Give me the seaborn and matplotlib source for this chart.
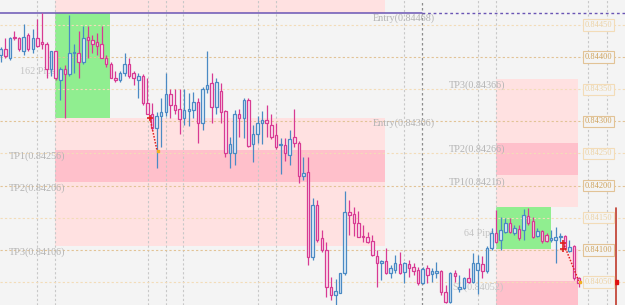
import matplotlib
matplotlib.use('Agg')
import matplotlib.pyplot as plt
from matplotlib.patches import Rectangle
import seaborn as sns
import pandas as pd
import numpy as np

# OHLC (one entry per candle, left to right)
opens = [0.84404, 0.84413, 0.84399, 0.84432, 0.84430, 0.84410, 0.84434, 0.84412, 0.84429, 0.84423,
         0.84421, 0.84382, 0.84409, 0.84365, 0.84381, 0.84373, 0.84406, 0.84407, 0.84392, 0.84432,
         0.84426, 0.84423, 0.84421, 0.84399, 0.84390, 0.84368, 0.84365, 0.84375, 0.84390, 0.84375,
         0.84364, 0.84371, 0.84328, 0.84312, 0.84289, 0.84308, 0.84314, 0.84342, 0.84325, 0.84319,
         0.84305, 0.84316, 0.84317, 0.84330, 0.84298, 0.84351, 0.84359, 0.84322, 0.84348, 0.84316,
         0.84250, 0.84250, 0.84312, 0.84306, 0.84334, 0.84264, 0.84281, 0.84298, 0.84302, 0.84295,
         0.84278, 0.84263, 0.84263, 0.84247, 0.84275, 0.84267, 0.84215, 0.84221, 0.84089, 0.84170,
         0.84118, 0.84100, 0.84042, 0.84030, 0.84033, 0.84064, 0.84159, 0.84156, 0.84142, 0.84121,
         0.84120, 0.84114, 0.84090, 0.84080, 0.84083, 0.84064, 0.84069, 0.84078, 0.84066, 0.84078,
         0.84073, 0.84069, 0.84048, 0.84072, 0.84062, 0.84064, 0.84067, 0.84034, 0.84019, 0.84064,
         0.84039, 0.84041, 0.84056, 0.84050, 0.84069, 0.84078, 0.84067, 0.84103, 0.84126, 0.84115,
         0.84128, 0.84142, 0.84126, 0.84132, 0.84131, 0.84153, 0.84145, 0.84121, 0.84129, 0.84123,
         0.84115, 0.84115, 0.84120, 0.84121, 0.84098, 0.84106, 0.84056]
highs = [0.84416, 0.84429, 0.84432, 0.84441, 0.84432, 0.84452, 0.84438, 0.84443, 0.84460, 0.84468,
         0.84423, 0.84410, 0.84410, 0.84384, 0.84387, 0.84466, 0.84421, 0.84440, 0.84449, 0.84448,
         0.84434, 0.84438, 0.84448, 0.84403, 0.84392, 0.84379, 0.84379, 0.84406, 0.84399, 0.84378,
         0.84375, 0.84373, 0.84368, 0.84328, 0.84314, 0.84336, 0.84375, 0.84350, 0.84351, 0.84350,
         0.84350, 0.84344, 0.84345, 0.84337, 0.84354, 0.84410, 0.84375, 0.84367, 0.84359, 0.84317,
         0.84275, 0.84317, 0.84320, 0.84336, 0.84336, 0.84295, 0.84309, 0.84316, 0.84326, 0.84312,
         0.84297, 0.84274, 0.84274, 0.84286, 0.84319, 0.84269, 0.84244, 0.84244, 0.84180, 0.84177,
         0.84131, 0.84112, 0.84058, 0.84055, 0.84064, 0.84191, 0.84177, 0.84166, 0.84160, 0.84139,
         0.84128, 0.84123, 0.84100, 0.84084, 0.84103, 0.84076, 0.84092, 0.84097, 0.84081, 0.84084,
         0.84080, 0.84073, 0.84073, 0.84076, 0.84072, 0.84081, 0.84069, 0.84045, 0.84066, 0.84069,
         0.84061, 0.84058, 0.84072, 0.84095, 0.84092, 0.84090, 0.84106, 0.84134, 0.84162, 0.84151,
         0.84149, 0.84149, 0.84139, 0.84139, 0.84163, 0.84165, 0.84151, 0.84134, 0.84131, 0.84126,
         0.84131, 0.84135, 0.84126, 0.84123, 0.84115, 0.84107, 0.84058]
lows = [0.84392, 0.84399, 0.84396, 0.84427, 0.84410, 0.84403, 0.84409, 0.84407, 0.84415, 0.84413,
        0.84368, 0.84371, 0.84364, 0.84333, 0.84305, 0.84371, 0.84376, 0.84368, 0.84390, 0.84399,
        0.84407, 0.84403, 0.84398, 0.84384, 0.84367, 0.84361, 0.84361, 0.84371, 0.84368, 0.84356,
        0.84336, 0.84326, 0.84311, 0.84286, 0.84227, 0.84260, 0.84308, 0.84306, 0.84312, 0.84281,
        0.84294, 0.84292, 0.84305, 0.84267, 0.84286, 0.84344, 0.84298, 0.84312, 0.84298, 0.84244,
        0.84227, 0.84232, 0.84275, 0.84274, 0.84260, 0.84236, 0.84267, 0.84264, 0.84275, 0.84272,
        0.84257, 0.84218, 0.84239, 0.84232, 0.84260, 0.84204, 0.84208, 0.84076, 0.84084, 0.84112,
        0.84097, 0.84027, 0.84022, 0.84014, 0.84033, 0.84061, 0.84123, 0.84121, 0.84120, 0.84112,
        0.84111, 0.84090, 0.84042, 0.84053, 0.84062, 0.84056, 0.84064, 0.84062, 0.84048, 0.84058,
        0.84061, 0.84045, 0.84047, 0.84048, 0.84050, 0.84056, 0.84030, 0.84017, 0.84017, 0.84050,
        0.84034, 0.84039, 0.84048, 0.84048, 0.84031, 0.84056, 0.84064, 0.84100, 0.84111, 0.84100,
        0.84126, 0.84126, 0.84123, 0.84115, 0.84115, 0.84139, 0.84118, 0.84120, 0.84111, 0.84112,
        0.84112, 0.84080, 0.84112, 0.84100, 0.84097, 0.84053, 0.84042]
closes = [0.84413, 0.84401, 0.84430, 0.84429, 0.84413, 0.84432, 0.84412, 0.84430, 0.84418, 0.84421,
          0.84382, 0.84409, 0.84367, 0.84381, 0.84373, 0.84406, 0.84407, 0.84392, 0.84430, 0.84426,
          0.84421, 0.84418, 0.84399, 0.84389, 0.84368, 0.84365, 0.84375, 0.84390, 0.84371, 0.84367,
          0.84371, 0.84328, 0.84312, 0.84289, 0.84308, 0.84314, 0.84342, 0.84325, 0.84317, 0.84303,
          0.84317, 0.84319, 0.84330, 0.84298, 0.84351, 0.84357, 0.84322, 0.84361, 0.84314, 0.84250,
          0.84264, 0.84311, 0.84306, 0.84333, 0.84261, 0.84281, 0.84298, 0.84302, 0.84297, 0.84275,
          0.84260, 0.84264, 0.84250, 0.84272, 0.84267, 0.84215, 0.84219, 0.84089, 0.84170, 0.84115,
          0.84100, 0.84042, 0.84030, 0.84036, 0.84064, 0.84159, 0.84154, 0.84142, 0.84120, 0.84120,
          0.84112, 0.84092, 0.84080, 0.84083, 0.84064, 0.84072, 0.84080, 0.84064, 0.84080, 0.84072,
          0.84067, 0.84048, 0.84070, 0.84061, 0.84067, 0.84067, 0.84034, 0.84019, 0.84064, 0.84059,
          0.84042, 0.84056, 0.84050, 0.84080, 0.84080, 0.84067, 0.84103, 0.84126, 0.84112, 0.84131,
          0.84142, 0.84128, 0.84134, 0.84118, 0.84154, 0.84142, 0.84120, 0.84129, 0.84114, 0.84114,
          0.84118, 0.84120, 0.84121, 0.84103, 0.84104, 0.84056, 0.84048]

# price scale labels on the right
grid_levels = [0.84450, 0.84400, 0.84350, 0.84300, 0.84250, 0.84200, 0.84150, 0.84100, 0.84050]
grid_labels = ['0.84450', '0.84400', '0.84350', '0.84300', '0.84250', '0.84200', '0.84150', '0.84100', '0.84050']

# trade levels
sl_left = 0.84468
entry_left = 0.84306
tp_left = [0.84256, 0.84206, 0.84106]
entry_right = 0.84166
tp_right = [0.84216, 0.84266, 0.84366]
green_right_low = 0.84102
sl_right = 0.84052

df = pd.DataFrame({'open': opens, 'high': highs, 'low': lows, 'close': closes})
df['idx'] = np.arange(len(df))

sns.set_theme(style='white')
plt.rcParams['font.family'] = ['Liberation Serif', 'DejaVu Serif']

bg = '#f4f4f4'
fig = plt.figure(figsize=(6.25, 3.05), dpi=100)
fig.patch.set_facecolor(bg)
ax = fig.add_axes([0, 0, 1, 1])
ax.set_facecolor(bg)
ymin, ymax = 0.840143, 0.844888
ax.set_xlim(-0.15, 136.1)
ax.set_ylim(ymin, ymax)
ax.set_xticks([])
ax.set_yticks([])
for s in ax.spines.values():
    s.set_visible(False)

light_pink = '#ffe1e1'
dark_pink = '#ffc0cb'
green = '#90ee90'

# zones of the left trade
ax.add_patch(Rectangle((11.85, sl_left), 83.8 - 11.85, ymax - sl_left, color=light_pink, zorder=0.5, lw=0))
ax.add_patch(Rectangle((11.85, entry_left), 23.8 - 11.85, sl_left - entry_left, color=green, zorder=0.5, lw=0))
ax.add_patch(Rectangle((11.85, tp_left[0]), 83.8 - 11.85, entry_left - tp_left[0], color=light_pink, zorder=0.5, lw=0))
ax.add_patch(Rectangle((11.85, tp_left[1]), 83.8 - 11.85, tp_left[0] - tp_left[1], color=dark_pink, zorder=0.5, lw=0))
ax.add_patch(Rectangle((11.85, tp_left[2]), 83.8 - 11.85, tp_left[1] - tp_left[2], color=light_pink, zorder=0.5, lw=0))

# zones of the right trade
ax.add_patch(Rectangle((108, tp_right[1]), 125.9 - 108, tp_right[2] - tp_right[1], color=light_pink, zorder=0.5, lw=0))
ax.add_patch(Rectangle((108, tp_right[0]), 125.9 - 108, tp_right[1] - tp_right[0], color=dark_pink, zorder=0.5, lw=0))
ax.add_patch(Rectangle((108, entry_right), 125.9 - 108, tp_right[0] - entry_right, color=light_pink, zorder=0.5, lw=0))
ax.add_patch(Rectangle((108, green_right_low), 119.9 - 108, entry_right - green_right_low, color=green, zorder=0.5, lw=0))
ax.add_patch(Rectangle((108, sl_right), 125.9 - 108, green_right_low - sl_right, color=light_pink, zorder=0.5, lw=0))
ax.add_patch(Rectangle((108, ymin), 125.9 - 108, sl_right - ymin, color=dark_pink, zorder=0.5, lw=0))

# vertical grid
for xv in [7.9, 11.85, 32.1, 36.0, 39.8, 56.1, 60.0, 87.9, 104.1, 108.0, 128.0, 132.2]:
    ax.axvline(xv, color='#c8c8c8', lw=0.8, ls=(0, (2, 2)), zorder=1)
ax.axvline(91.85, color='#8c8c8c', lw=0.9, ls=(0, (2, 2)), zorder=1)

# horizontal grid and price labels
for k, (lv, lab) in enumerate(zip(grid_levels, grid_labels)):
    strong = (k % 2 == 1)
    lc = '#e2c396' if strong else '#f3dcb8'
    tc = '#cfa35c' if strong else '#ecd2a4'
    ax.axhline(lv, color=lc, lw=0.8, ls=(0, (2, 2)), zorder=1)
    ax.text(130.3, lv, lab, ha='center', va='center', fontsize=6, color=tc, zorder=5,
            bbox=dict(boxstyle='square,pad=0.2', fc=bg, ec=lc, lw=0.8))

# purple stop line
ax.plot([-0.15, 91.85], [sl_left, sl_left], color='#6a55b5', lw=1.1, zorder=2)
ax.plot([91.85, 136.1], [sl_left, sl_left], color='#6a55b5', lw=1.0, ls=(0, (2, 2)), zorder=2)

# candles
bear_edge, bull_edge = '#d83a93', '#4a8ac4'
bear_face, bull_face = '#fbe3ef', '#e3eef8'
up = df['close'] >= df['open']
edge = np.where(up, bull_edge, bear_edge)
face = np.where(up, bull_face, bear_face)
ax.vlines(df['idx'], df['low'], df['high'], colors=edge, lw=0.9, zorder=3)
bottom = np.minimum(df['open'], df['close'])
height = np.maximum(np.abs(df['close'] - df['open']), 0.000018)
ax.bar(df['idx'], height, bottom=bottom, width=0.55, color=face, edgecolor=edge, linewidth=0.9, zorder=3.5)

# text annotations
txt = '#b4b4b4'
ax.text(81.2, 0.84460, 'Entry(0.84468)', fontsize=7.3, color=txt, va='center', zorder=2)
ax.text(81.2, 0.84297, 'Entry(0.84306)', fontsize=7.3, color=txt, va='center', zorder=2)
ax.text(97.8, 0.84356, 'TP3(0.84366)', fontsize=7.3, color=txt, va='center', zorder=2)
ax.text(97.8, 0.84257, 'TP2(0.84266)', fontsize=7.3, color=txt, va='center', zorder=2)
ax.text(97.8, 0.84206, 'TP1(0.84216)', fontsize=7.3, color=txt, va='center', zorder=2)
ax.text(1.8, 0.84246, 'TP1(0.84256)', fontsize=7.3, color=txt, va='center', zorder=2)
ax.text(1.8, 0.84196, 'TP2(0.84206)', fontsize=7.3, color=txt, va='center', zorder=2)
ax.text(1.8, 0.84097, 'TP3(0.84106)', fontsize=7.3, color=txt, va='center', zorder=2)
ax.text(4.2, 0.84377, '162 Pips', fontsize=7.3, color='#c4c4c4', va='center', zorder=2)
ax.text(100.9, 0.84125, '64 Pips', fontsize=7.3, color='#c4c4c4', va='center', zorder=2)
ax.text(98.4, 0.84042, 'SL(0.84052)', fontsize=7.3, color='#c4c4c4', va='center', zorder=2)

# trade execution markers
trades = pd.DataFrame({'x': [32.55, 34.1, 122.65, 126.0],
                       'y': [0.84305, 0.84254, 0.84111, 0.84052],
                       'trade': ['a', 'a', 'b', 'b']})
sns.lineplot(data=trades, x='x', y='y', units='trade', estimator=None, color='#e02020',
             lw=1.1, ls=(0, (1, 1)), ax=ax, zorder=4, legend=False)
ax.plot([32.55, 122.65, 122.65], [0.84305, 0.84111, 0.84101], ls='none', marker='+',
        color='#e02020', ms=4, mew=1.2, zorder=4.5)
ax.plot([34.2, 126.3], [0.84254, 0.84050], ls='none', marker='s', color='#f0b020', ms=2, zorder=4.5)
ax.plot([134.1, 134.1], [0.84165, ymin], color='#c0392b', lw=1.2, zorder=4)
ax.plot([134.1], [0.84050], marker='s', color='#e01010', ms=3, zorder=4.5)

ax.set_xlabel('')
ax.set_ylabel('')
fig.savefig('out.png', dpi=100, facecolor=bg)
plt.close()
